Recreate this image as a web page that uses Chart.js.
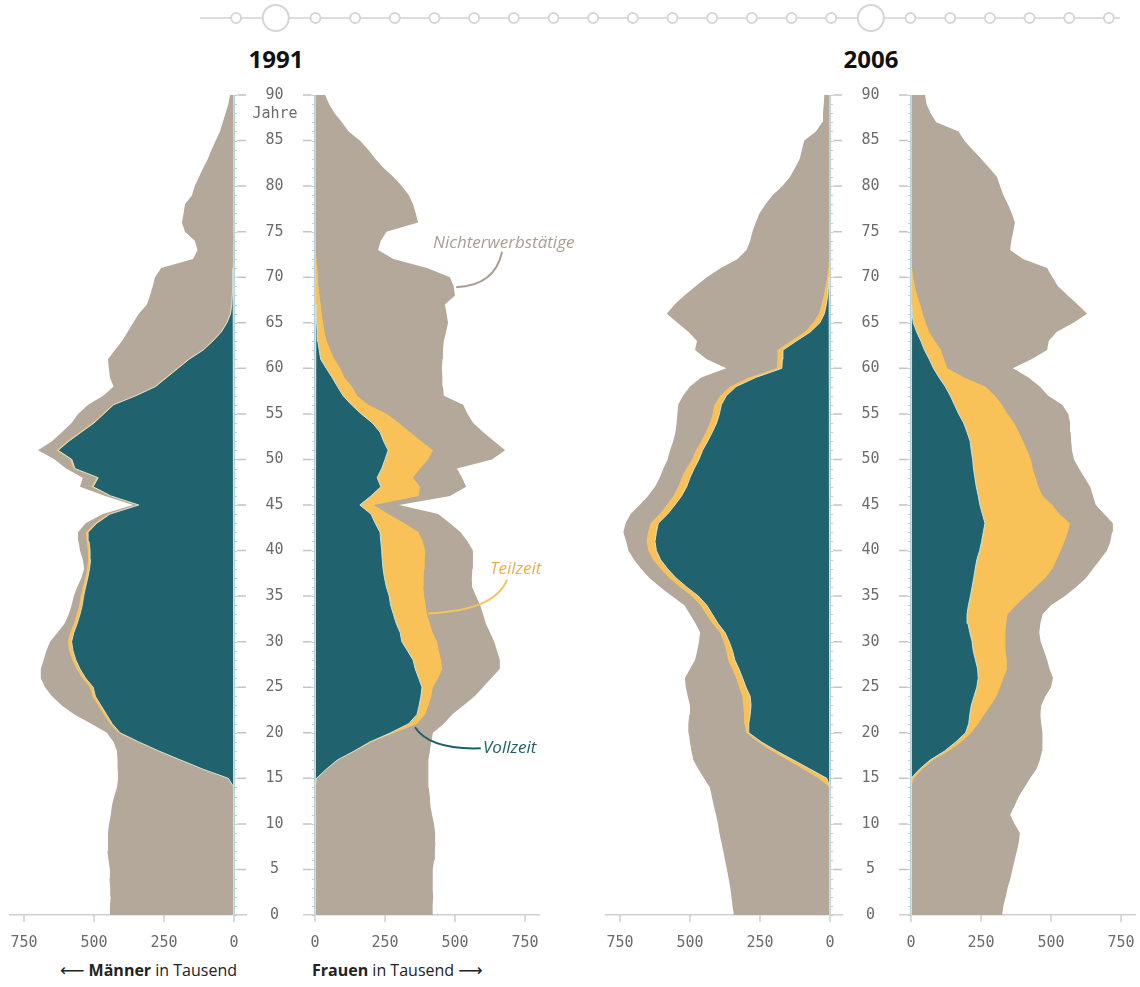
<!DOCTYPE html>
<html lang="de">
<head>
<meta charset="utf-8">
<title>Erwerbstätigkeit nach Alter, 1991 und 2006</title>
<script src="https://cdn.jsdelivr.net/npm/chart.js@4.4.1/dist/chart.umd.min.js"></script>
<style>
  body { margin: 0; background: #fff; }
  #page { position: relative; width: 1140px; height: 987px; overflow: hidden; font-family: 'Open Sans', sans-serif; }
  canvas, .txt { position: absolute; }
  .txt { white-space: nowrap; line-height: 1; }
  .title { font-weight: 700; font-size: 24px; color: #111; transform: translateX(-50%); }
  .caption { font-size: 16px; color: #222; }
  .caption b { font-weight: 700; }
  .arrow { font-family: 'DejaVu Sans', sans-serif; font-size: 17px; }
  .mono { font-family: 'DejaVu Sans Mono', monospace; font-size: 15px; color: #6b6b6b; transform: translateX(-50%); }
  .note { font-style: italic; font-size: 17px; }
</style>
</head>
<body>
<div id="page">
  <canvas id="timeline" width="1140" height="36" style="left:0;top:0"></canvas>

  <div class="txt title" style="left:276px;top:47px">1991</div>
  <div class="txt title" style="left:871px;top:47px">2006</div>

  <canvas id="m91" width="303" height="875" style="left:0;top:80px"></canvas>
  <canvas id="w91" width="245" height="875" style="left:303px;top:80px"></canvas>
  <canvas id="m06" width="303" height="875" style="left:596px;top:80px"></canvas>
  <canvas id="w06" width="241" height="875" style="left:899px;top:80px"></canvas>

  <div class="txt mono" style="left:275px;top:106px">Jahre</div>

  <div class="txt note" style="left:433px;top:233px;color:#a89f91">Nichterwerbstätige</div>
  <div class="txt note" style="left:490px;top:559px;color:#e6b444">Teilzeit</div>
  <div class="txt note" style="left:483px;top:738px;color:#1e5e6b">Vollzeit</div>

  <div class="txt caption" style="right:903px;top:962px"><span class="arrow">&#x27F5;</span> <b>Männer</b> in Tausend</div>
  <div class="txt caption" style="left:312px;top:962px"><b>Frauen</b> in Tausend <span class="arrow">&#x27F6;</span></div>
</div>

<script>
// Alter in Jahren (Kategorien der senkrechten Achse)
const ages = [0,1,2,3,4,5,6,7,8,9,10,11,12,13,14,15,16,17,18,19,20,21,22,23,24,25,26,27,28,29,
  30,31,32,33,34,35,36,37,38,39,40,41,42,43,44,45,46,47,48,49,50,51,52,53,54,55,56,57,58,59,
  60,61,62,63,64,65,66,67,68,69,70,71,72,73,74,75,76,77,78,79,80,81,82,83,84,85,86,87,88,89,90];
const ageTicks = [0,5,10,15,20,25,30,35,40,45,50,55,60,65,70,75,80,85,90];
const valueTicks = [0, 250, 500, 750];   // Tausend Personen
const years = [1990,1991,1992,1993,1994,1995,1996,1997,1998,1999,2000,2001,
  2002,2003,2004,2005,2006,2007,2008,2009,2010,2011,2012];
const shownYears = [1991, 2006];

// 1991 Männer (Tausend), Index = Alter
const m91Voll = [0,0,0,0,0,0,0,0,0,0,0,0,0,0,0,
  20,110,190,268,340,407,435,455,475,495,503,530,550,565,575,580,572,560,550,542,537,530,522,516,512,
  514,518,521,490,443,340,440,503,485,568,579,628,590,545,500,465,430,350,280,240,200,160,110,75,45,
  25,12,8,6,5,4,3,2,
  0,0,0,0,0,0,0,0,0,0,0,0,0,0,0,0,0,0];
const m91Teil = [0,0,0,0,0,0,0,0,0,0,0,0,0,0,0,
  2,3,4,5,6,7,8,10,10,11,12,12,12,13,13,14,13,12,12,11,11,10,10,9,9,
  8,8,8,7,7,5,6,6,6,6,6,6,6,6,6,5,5,5,5,5,5,5,4,4,3,
  3,3,2,2,2,1,1,1,
  0,0,0,0,0,0,0,0,0,0,0,0,0,0,0,0,0,0];
const m91Nicht = [445,443,440,442,445,443,448,452,450,450,446,440,436,428,418,
  392,302,222,145,84,40,67,105,130,144,160,148,128,102,82,63,45,33,28,27,24,20,13,10,19,
  28,29,28,33,18,15,14,41,49,26,55,66,54,63,74,87,86,112,145,198,242,285,311,321,332,
  332,325,301,292,283,277,256,143,
  130,140,175,186,180,175,150,140,125,110,93,80,65,50,40,30,20,14];

// 1991 Frauen (Tausend)
const w91Voll = [0,0,0,0,0,0,0,0,0,0,0,0,0,0,0,
  5,40,79,140,196,270,335,364,372,378,382,370,358,350,330,310,304,290,280,270,265,255,248,243,240,
  238,235,232,215,200,160,200,235,222,238,250,261,245,232,205,165,130,100,80,61,40,20,15,10,8,
  6,4,3,2,1,1,
  0,0,0,0,0,0,0,0,0,0,0,0,0,0,0,0,0,0,0,0];
const w91Teil = [0,0,0,0,0,0,0,0,0,0,0,0,0,0,0,
  1,2,3,5,6,15,30,29,33,37,39,70,96,100,112,126,116,120,120,125,125,131,140,147,152,
  155,150,138,105,62,50,170,140,128,137,154,160,135,107,95,92,60,50,52,44,50,50,39,32,26,
  23,20,17,14,12,10,8,5,3,2,
  0,0,0,0,0,0,0,0,0,0,0,0,0,0,0,0];
const w91Nicht = [421,420,422,420,420,421,425,428,430,429,425,418,412,410,406,
  398,362,324,265,213,136,95,97,125,155,179,190,206,210,208,204,205,200,200,195,185,175,172,172,172,
  171,160,150,162,178,90,112,165,175,132,228,258,260,261,265,288,339,310,325,350,363,385,403,418,434,
  446,446,444,484,482,471,392,275,222,233,
  255,368,360,350,335,310,280,245,215,190,160,120,96,70,50,36];

// 2006 Männer (Tausend)
const m06Voll = [0,0,0,0,0,0,0,0,0,0,0,0,0,0,0,
  11,70,130,190,245,290,290,285,282,285,300,312,325,340,348,360,375,400,420,440,470,512,550,580,605,
  620,625,620,613,580,554,530,512,500,485,468,455,437,420,405,395,388,370,335,265,172,170,168,120,70,
  36,20,13,8,5,3,2,1,
  0,0,0,0,0,0,0,0,0,0,0,0,0,0,0,0,0,0];
const m06Teil = [0,0,0,0,0,0,0,0,0,0,0,0,0,0,0,
  30,25,22,18,12,10,15,22,28,28,25,23,24,24,22,20,18,20,22,23,24,24,24,25,27,
  29,30,30,28,28,29,30,30,30,28,25,24,23,23,24,24,25,22,22,25,18,18,20,20,20,
  24,20,17,14,11,7,4,2,
  0,0,0,0,0,0,0,0,0,0,0,0,0,0,0,0,0,0];
const m06Nicht = [343,348,352,356,362,368,375,381,388,395,400,407,415,422,429,
  409,375,336,287,243,205,201,195,190,195,190,183,151,118,104,88,71,60,58,57,71,71,71,70,68,
  71,73,88,89,104,97,90,83,78,82,87,92,100,109,119,126,129,133,143,170,180,252,294,335,415,
  485,543,525,498,464,430,384,327,
  298,285,277,265,252,230,205,170,143,125,108,100,92,50,28,25,22,20];

// 2006 Frauen (Tausend)
const w06Voll = [0,0,0,0,0,0,0,0,0,0,0,0,0,0,0,
  3,30,68,120,160,195,206,210,215,225,235,240,238,230,222,218,210,203,200,205,212,218,224,229,235,
  245,252,258,264,255,246,240,233,228,223,220,215,211,200,188,170,155,140,122,100,80,65,48,35,20,
  8,4,2,1,
  0,0,0,0,0,0,0,0,0,0,0,0,0,0,0,0,0,0,0,0,0,0];
const w06Teil = [0,0,0,0,0,0,0,0,0,0,0,0,0,0,0,
  7,10,11,15,20,20,34,52,70,80,83,90,105,112,116,118,128,137,145,170,198,227,256,276,285,
  290,296,302,304,275,259,230,222,217,212,208,200,189,185,180,175,170,160,143,90,50,53,59,50,45,
  44,38,31,21,14,8,4,2,
  0,0,0,0,0,0,0,0,0,0,0,0,0,0,0,0,0,0];
const w06Nicht = [325,330,338,345,355,362,370,378,385,389,370,354,370,385,405,
  415,408,381,333,291,253,225,200,180,175,182,177,152,144,137,127,120,122,125,125,140,145,145,145,155,
  165,164,158,153,160,155,180,185,175,165,154,160,172,185,200,217,215,190,195,230,234,312,379,407,455,
  528,587,562,538,511,497,482,398,
  354,358,365,371,360,346,330,318,307,280,250,220,190,170,90,70,55,50];

const C_VOLL = '#20636e';
const C_TEIL = '#f8c259';
const C_NICHT = '#b3a899';
const AXIS_GREY = '#cfcfcf';
const TICK_TXT = '#6b6b6b';
const MONO = { family: "'DejaVu Sans Mono', monospace", size: 15 };

// age axis (zero line, yearly ticks, 5-year dashes) and short value ticks
const axisMarks = {
    id: 'axisMarks',
    afterDatasetsDraw(chart) {
        const { ctx, chartArea, scales: { x, y } } = chart;
        const x0 = x.getPixelForValue(0);
        const dir = x.getPixelForValue(-10) > x0 ? 1 : -1;
        ctx.save();
        ctx.lineWidth = 1;
        ctx.strokeStyle = '#b7d0d6';
        ctx.beginPath();
        ctx.moveTo(x0 + dir * 0.5, y.getPixelForValue(0));
        ctx.lineTo(x0 + dir * 0.5, y.getPixelForValue(90));
        ages.forEach(a => {
            const py = Math.round(y.getPixelForValue(a)) + 0.5;
            ctx.moveTo(x0, py);
            ctx.lineTo(x0 + dir * 3, py);
        });
        ctx.stroke();
        ctx.strokeStyle = '#c4c4c4';
        ctx.lineWidth = 1.5;
        ctx.beginPath();
        ageTicks.forEach(a => {
            if (a === 0) return;
            const py = y.getPixelForValue(a);
            ctx.moveTo(x.getPixelForValue(-12), py);
            ctx.lineTo(x.getPixelForValue(-43), py);
        });
        ctx.stroke();
        ctx.strokeStyle = AXIS_GREY;
        ctx.beginPath();
        valueTicks.forEach(v => {
            const px = x.getPixelForValue(v);
            ctx.moveTo(px, chartArea.bottom);
            ctx.lineTo(px, chartArea.bottom + 7);
        });
        ctx.stroke();
        ctx.restore();
    }
};

// curved leader lines from the labels to the areas (women 1991)
const leaderLines = [
    { from: [504, 68.9], ctrl: [643, 69.1], to: [668, 72.8], color: '#a89f91' },
    { from: [404, 33.1], ctrl: [643, 33.4], to: [686, 36.8], color: '#f2c55c' },
    { from: [357, 20.6], ctrl: [411, 18.1], to: [592, 18.3], color: '#1e5e6b' }
];
const leaders = {
    id: 'leaders',
    afterDraw(chart, args, opts) {
        if (!opts.lines) return;
        const { ctx, scales: { x, y } } = chart;
        ctx.save();
        ctx.lineWidth = 2;
        opts.lines.forEach(l => {
            ctx.strokeStyle = l.color;
            ctx.beginPath();
            ctx.moveTo(x.getPixelForValue(l.from[0]), y.getPixelForValue(l.from[1]));
            ctx.quadraticCurveTo(x.getPixelForValue(l.ctrl[0]), y.getPixelForValue(l.ctrl[1]),
                x.getPixelForValue(l.to[0]), y.getPixelForValue(l.to[1]));
            ctx.stroke();
        });
        ctx.restore();
    }
};

function shape(vals) {
    // outline along the values, then back down the zero line
    const outer = ages.map((a, i) => ({ x: vals[i], y: a }));
    const inner = ages.slice().reverse().map(a => ({ x: 0, y: a }));
    return outer.concat(inner);
}

function makePanel(id, voll, teil, nicht, men, padding, lines) {
    const vt = voll.map((v, i) => v + teil[i]);
    const all = vt.map((v, i) => v + nicht[i]);
    return new Chart(document.getElementById(id), {
        type: 'scatter',
        data: {
            datasets: [
                { label: 'Vollzeit', data: shape(voll), showLine: true, fill: 'shape',
                  backgroundColor: C_VOLL, borderColor: 'rgba(214,231,229,0.9)', borderWidth: 1 },
                { label: 'Teilzeit', data: shape(vt), showLine: true, fill: 'shape',
                  backgroundColor: C_TEIL, borderColor: 'transparent', borderWidth: 0 },
                { label: 'Nichterwerbstätige', data: shape(all), showLine: true, fill: 'shape',
                  backgroundColor: C_NICHT, borderColor: 'transparent', borderWidth: 0 }
            ]
        },
        options: {
            responsive: false,
            animation: false,
            events: [],
            elements: { point: { radius: 0, hoverRadius: 0 }, line: { tension: 0 } },
            layout: { padding: padding, autoPadding: false },
            plugins: {
                legend: { display: false },
                tooltip: { enabled: false },
                leaders: { lines: lines }
            },
            scales: {
                x: {
                    type: 'linear',
                    min: -43,
                    max: 800,
                    reverse: men,
                    afterBuildTicks: s => { s.ticks = valueTicks.map(v => ({ value: v })); },
                    afterFit: s => { s.height = 40; },
                    grid: { drawOnChartArea: false, drawTicks: true, tickLength: 19, tickColor: 'transparent' },
                    border: { color: AXIS_GREY, width: 1.5 },
                    ticks: { font: MONO, color: TICK_TXT, padding: 0, maxRotation: 0 }
                },
                y: {
                    type: 'linear',
                    min: 0,
                    max: 90,
                    position: 'right',
                    display: men,
                    afterBuildTicks: s => { s.ticks = ageTicks.map(v => ({ value: v })); },
                    afterFit: s => { s.width = men ? 57 : 0; },
                    grid: { display: true, drawOnChartArea: false, drawTicks: true, tickLength: 19.5, tickColor: 'transparent' },
                    border: { display: false },
                    ticks: { font: MONO, color: TICK_TXT, padding: 0, crossAlign: 'center' }
                }
            }
        },
        plugins: [axisMarks, leaders]
    });
}

makePanel('m91', m91Voll, m91Teil, m91Nicht, true, { left: 10, top: 15, right: 0, bottom: 0 }, null);
makePanel('w91', w91Voll, w91Teil, w91Nicht, false, { left: 0, top: 15, right: 9, bottom: 0 }, leaderLines);
makePanel('m06', m06Voll, m06Teil, m06Nicht, true, { left: 10, top: 15, right: 0, bottom: 0 }, null);
makePanel('w06', w06Voll, w06Teil, w06Nicht, false, { left: 0, top: 15, right: 5, bottom: 0 }, null);

// timeline of survey years at the top
const trackMin = 1989.09;
const trackMax = 2012.28;
new Chart(document.getElementById('timeline'), {
    type: 'scatter',
    data: {
        datasets: [
            {
                data: years.map(y => ({ x: y, y: 0 })),
                pointRadius: c => shownYears.includes(years[c.dataIndex]) ? 13 : 5,
                pointBackgroundColor: '#fff',
                pointBorderColor: '#d6d6d6',
                pointBorderWidth: 2,
                clip: false
            },
            {
                data: [{ x: trackMin, y: 0 }, { x: trackMax, y: 0 }],
                showLine: true,
                borderColor: '#dddddd',
                borderWidth: 2,
                pointRadius: 0
            }
        ]
    },
    options: {
        responsive: false,
        animation: false,
        events: [],
        layout: { padding: { left: 200, right: 20, top: 0, bottom: 0 } },
        plugins: { legend: { display: false }, tooltip: { enabled: false } },
        scales: {
            x: { type: 'linear', display: false, min: trackMin, max: trackMax },
            y: { type: 'linear', display: false, min: -1, max: 1 }
        }
    }
});
</script>
</body>
</html>
